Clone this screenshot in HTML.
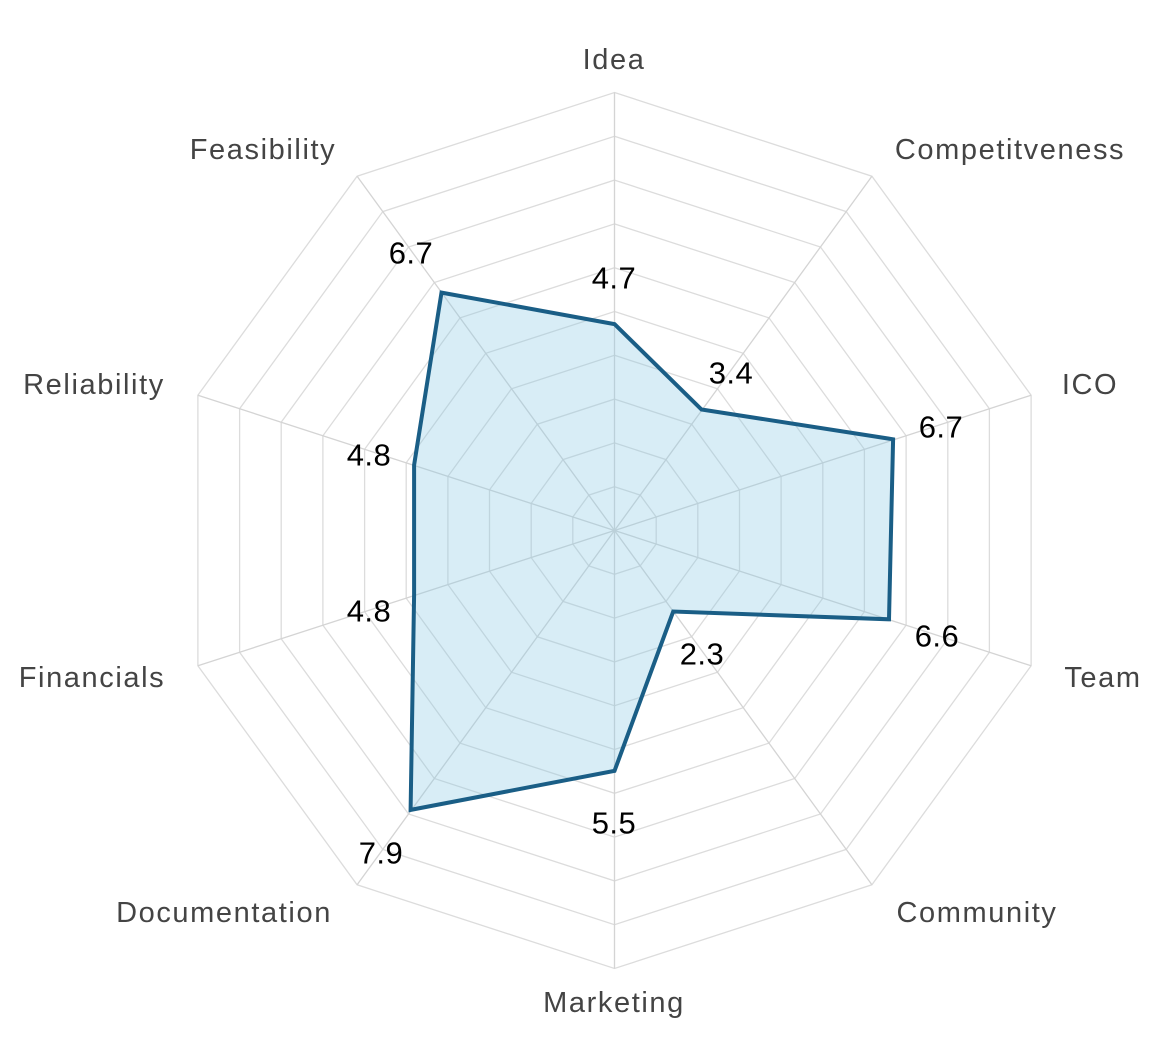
<!DOCTYPE html>
<html><head><meta charset="utf-8"><style>
html,body{margin:0;padding:0;background:#fff;width:1161px;height:1038px;overflow:hidden}
svg{display:block}
.ax{font-family:"Liberation Sans",sans-serif;font-size:29px;fill:#444;letter-spacing:1.6px}
.v{font-family:"Liberation Sans",sans-serif;font-size:31px;fill:#000;letter-spacing:0.5px}
</style></head><body>
<svg id="s" width="1161" height="1038" viewBox="0 0 1161 1038" xmlns="http://www.w3.org/2000/svg">
<g id="grid"></g>
<polygon points="614.5,324.1 701.5,409.5 893.1,439.3 889,619.3 673.2,611.5 614.5,770.9 410.6,809.9 414.1,595 414.1,465 441.5,292.6" fill="rgba(135,200,228,0.32)" stroke="#1a5e86" stroke-width="4" stroke-linejoin="miter"/>
<g text-anchor="middle" dominant-baseline="central">
<text class="ax" x="614" y="60">Idea</text>
<text class="ax" x="1010" y="150">Competitveness</text>
<text class="ax" x="1090" y="385">ICO</text>
<text class="ax" x="1103" y="678">Team</text>
<text class="ax" x="977" y="913">Community</text>
<text class="ax" x="614" y="1003">Marketing</text>
<text class="ax" x="224" y="913">Documentation</text>
<text class="ax" x="92" y="678">Financials</text>
<text class="ax" x="94" y="385">Reliability</text>
<text class="ax" x="263" y="150">Feasibility</text>
<text class="v" x="614" y="278">4.7</text>
<text class="v" x="731" y="373">3.4</text>
<text class="v" x="941" y="427">6.7</text>
<text class="v" x="937" y="636">6.6</text>
<text class="v" x="702" y="654">2.3</text>
<text class="v" x="614" y="823">5.5</text>
<text class="v" x="381" y="853">7.9</text>
<text class="v" x="369" y="611">4.8</text>
<text class="v" x="369" y="455">4.8</text>
<text class="v" x="411" y="253">6.7</text>
</g>
</svg>
<script>
var g=document.getElementById('grid'),cx=614.5,cy=530.5,R=438,h='';
for(var l=1;l<=10;l++){var r=R*l/10,p=[];for(var i=0;i<10;i++){var a=(-90+36*i)*Math.PI/180;p.push((cx+r*Math.cos(a)).toFixed(1)+','+(cy+r*Math.sin(a)).toFixed(1));}
h+='<polygon points="'+p.join(' ')+'" fill="none" stroke="#dcdcdc" stroke-width="1.3"/>';}
for(var i=0;i<10;i++){var a=(-90+36*i)*Math.PI/180;h+='<line x1="'+cx+'" y1="'+cy+'" x2="'+(cx+R*Math.cos(a)).toFixed(1)+'" y2="'+(cy+R*Math.sin(a)).toFixed(1)+'" stroke="#d4d4d4" stroke-width="1.3"/>';}
g.innerHTML=h;
</script>
</body></html>
